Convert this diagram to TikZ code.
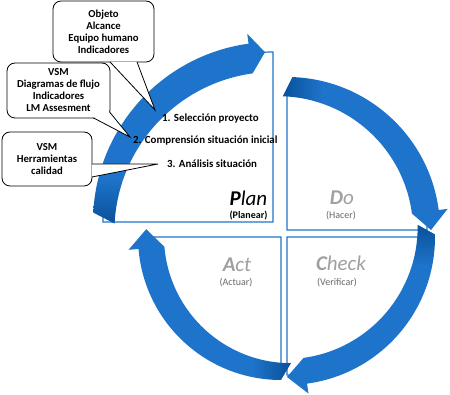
\documentclass[tikz,border=0pt]{standalone}
\usepackage{fontspec}
\setmainfont{Carlito}
\definecolor{pdcablue}{RGB}{30,116,202}
\definecolor{pdcadark}{RGB}{10,84,158}
\definecolor{pdcagray}{RGB}{160,160,160}
\definecolor{pdcatext}{RGB}{105,105,105}
\pgfdeclareverticalshading{tail fade}{100bp}{color(0bp)=(pdcadark); color(26bp)=(pdcadark); color(37bp)=(pdcablue); color(100bp)=(pdcablue)}
\tikzset{
  phase box/.style={draw=pdcablue, line width=1.2pt, fill=white},
  cycle arrow/.style={shading=tail fade},
  phase word/.style={font=\fontsize{21}{21}\selectfont\itshape, text=pdcagray, inner sep=0pt},
  phase sub/.style={font=\fontsize{10}{10}\selectfont, text=pdcatext, inner sep=0pt},
  step text/.style={font=\fontsize{10.9}{12}\selectfont\bfseries, anchor=west, inner sep=0pt},
  note box/.style={draw, line width=0.8pt, rounded corners=8pt, fill=white, align=center,
    inner sep=2pt, font=\fontsize{10.7}{12}\selectfont\bfseries},
  note wedge/.style={draw, line width=0.8pt, fill=white},
}

\begin{document}
\begin{tikzpicture}[x=1pt, y=1pt]
  \useasboundingbox (0,0) rectangle (450,-395);

  % quadrants
  \draw[phase box] (273,-222) -- ++(0,170) arc[start angle=90, end angle=180, radius=170] -- cycle;
  \draw[phase box] (287,-230) -- ++(0,140) arc[start angle=90, end angle=0, radius=140] -- cycle;
  \draw[phase box] (287,-237) -- ++(138,0) arc[start angle=0, end angle=-90, radius=138] -- cycle;
  \draw[phase box] (281,-237) -- ++(0,-135) arc[start angle=-90, end angle=-180, radius=135] -- cycle;

  % arrows
  \begin{scope}[shift={(273,-222)}]
    \shade[cycle arrow] (177:180) arc[start angle=177, end angle=97.8, radius=180]
      -- (97.8:190) -- (92.7:170) -- (97.8:150)
      arc[start angle=97.8, end angle=177, radius=160] -- cycle;
  \end{scope}
  \begin{scope}[shift={(287,-230)}]
    \shade[cycle arrow, shading angle=-90] (88:153) arc[start angle=88, end angle=7.5, radius=153]
      -- (7.5:162) -- (0:144) -- (7.5:126)
      arc[start angle=7.5, end angle=88, radius=135] -- cycle;
  \end{scope}
  \begin{scope}[shift={(287,-237)}]
    \shade[cycle arrow, shading angle=180] (1:148) arc[start angle=1, end angle=-82.2, radius=148]
      -- (-82.2:158) -- (-90:140) -- (-82.2:122)
      arc[start angle=-82.2, end angle=1, radius=132] -- cycle;
  \end{scope}
  \begin{scope}[shift={(281,-237)}]
    \shade[cycle arrow, shading angle=90] (270:143) arc[start angle=270, end angle=184.8, radius=143]
      -- (184.8:153) -- (176.7:135) -- (184.8:117)
      arc[start angle=184.8, end angle=270, radius=127] -- cycle;
  \end{scope}

  % phase names
  \node[phase word, text=black, anchor=base] (plan) at (248.5,-206) {\textbf{P}lan};
  \node[phase sub, text=black, anchor=base] (planear) at (248.5,-218.5) {\textbf{(Planear)}};
  \node[phase word, anchor=base] (do) at (342,-205) {\textbf{D}o};
  \node[phase sub, anchor=base] (hacer) at (341,-219) {(Hacer)};
  \node[phase word, anchor=base] (check) at (341,-271) {\textbf{C}heck};
  \node[phase sub, anchor=base] (verificar) at (337,-286) {(Verificar)};
  \node[phase word, anchor=base] (act) at (237,-272) {\textbf{A}ct};
  \node[phase sub, anchor=base] (actuar) at (236,-286) {(Actuar)};

  % plan steps
  \node[step text] (sel) at (162,-119) {1. Selección proyecto};
  \node[step text] (comp) at (133,-141) {2. Comprensión situación inicial};
  \node[step text] (anal) at (167,-164) {3. Análisis situación};

  % notes
  \node[note box, minimum width=101pt, minimum height=61pt] (obj) at (103.5,-31.5)
    {Objeto\\Alcance\\Equipo humano\\Indicadores};
  \node[note box, minimum width=103pt, minimum height=55pt] (diag) at (58.5,-90.5)
    {VSM\\Diagramas de flujo\\Indicadores\\LM Assesment};
  \node[note box, minimum width=90pt, minimum height=54pt] (herr) at (47,-159)
    {VSM\\Herramientas\\calidad};

  \draw[note wedge] ([xshift=6.5pt,yshift=0.5pt]obj.south) -- ([xshift=-7pt,yshift=9pt]sel.west)
    -- ([xshift=33.5pt,yshift=0.5pt]obj.south);
  \draw[note wedge] ([xshift=-17pt,yshift=0.5pt]diag.south east) -- ([xshift=-3pt,yshift=4pt]comp.west)
    -- ([xshift=-0.5pt,yshift=6pt]diag.south east);
  \draw[note wedge] ([xshift=-0.5pt,yshift=-5pt]herr.east) -- ([xshift=-9pt]anal.west)
    -- ([xshift=-0.5pt,yshift=-18pt]herr.east);

\end{tikzpicture}
\end{document}
